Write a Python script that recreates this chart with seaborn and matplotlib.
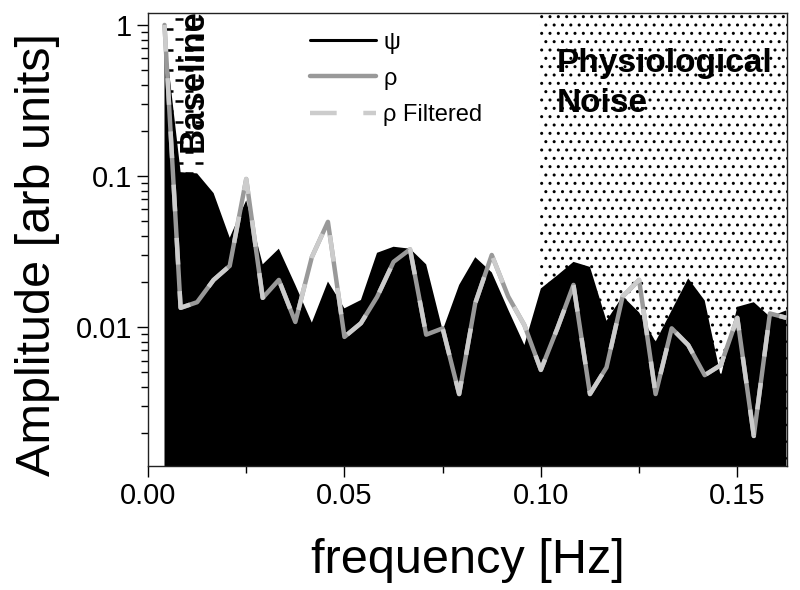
import numpy as np
import matplotlib
matplotlib.use('Agg')
import matplotlib.pyplot as plt
import matplotlib.ticker as mticker
from matplotlib.lines import Line2D
import seaborn as sns

# spectrum sampled at k/240 Hz, k = 1..39
freq = [0.0042, 0.0083, 0.0125, 0.0167, 0.0208, 0.0250, 0.0292, 0.0333, 0.0375, 0.0417,
        0.0458, 0.0500, 0.0542, 0.0583, 0.0625, 0.0667, 0.0708, 0.0750, 0.0792, 0.0833,
        0.0875, 0.0917, 0.0958, 0.1000, 0.1042, 0.1083, 0.1125, 0.1167, 0.1208, 0.1250,
        0.1292, 0.1333, 0.1375, 0.1417, 0.1458, 0.1500, 0.1542, 0.1583, 0.1625]

psi = [0.90, 0.106, 0.104, 0.077, 0.039, 0.069, 0.026, 0.033, 0.019, 0.0107,
       0.020, 0.0133, 0.0151, 0.031, 0.034, 0.033, 0.026, 0.0095, 0.019, 0.029,
       0.023, 0.013, 0.0076, 0.018, 0.022, 0.027, 0.025, 0.011, 0.016, 0.0125,
       0.0080, 0.0129, 0.021, 0.015, 0.0047, 0.0136, 0.0146, 0.0117, 0.0129]

rho = [1.0, 0.0134, 0.0146, 0.0205, 0.0254, 0.0955, 0.0156, 0.0205, 0.0108, 0.029,
       0.0497, 0.0086, 0.0106, 0.0158, 0.027, 0.0327, 0.0089, 0.0098, 0.0036, 0.0144,
       0.030, 0.0159, 0.0103, 0.0052, 0.0098, 0.0190, 0.0036, 0.0054, 0.0159, 0.0205,
       0.0036, 0.0098, 0.0076, 0.0048, 0.0056, 0.0115, 0.0019, 0.0123, 0.0115]

rho_filtered = [1.0, 0.0134, 0.0146, 0.0205, 0.0254, 0.0955, 0.0156, 0.0205, 0.0108, 0.029,
                0.0497, 0.0086, 0.0106, 0.0158, 0.027, 0.0327, 0.0089, 0.0098, 0.0036, 0.0144,
                0.030, 0.0159, 0.0103, 0.0052, 0.0098, 0.0190, 0.0036, 0.0054, 0.0159, 0.0205,
                0.0036, 0.0098, 0.0076, 0.0048, 0.0056, 0.0115, 0.0019, 0.0123, 0.0115]

baseline_band = (0.0043, 0.0140)
noise_band = (0.0995, 0.1630)

sns.set_style('ticks')
narrow = ['Liberation Sans Narrow', 'Liberation Sans', 'DejaVu Sans']
plt.rcParams['font.family'] = ['Liberation Sans', 'DejaVu Sans']
plt.rcParams['hatch.linewidth'] = 1.0
for key in ['text.color', 'axes.labelcolor', 'xtick.color', 'ytick.color']:
    plt.rcParams[key] = 'black'

fig = plt.figure(figsize=(8, 5.9), dpi=100)
ax = fig.add_axes([0.185, 0.210, 0.799, 0.768])
ax.set_yscale('log')
ax.set_xlim(0, 0.1627)
ax.set_ylim(0.0012, 1.2)

# baseline band: staggered rows of short dashes
rows = np.geomspace(0.0013, 1.1, 44)
ax.hlines(rows[::2], *baseline_band, colors='black', linewidth=1.8,
          linestyles=(0, (3.2, 4.8)), zorder=0)
ax.hlines(rows[1::2], *baseline_band, colors='black', linewidth=1.8,
          linestyles=(4, (3.2, 4.8)), zorder=0)
# physiological noise band: dotted
ax.axvspan(*noise_band, facecolor='none', edgecolor='black', hatch='..', linewidth=0, zorder=0)

# psi as filled area
ax.fill_between(freq, psi, 1e-4, color='black', linewidth=0, zorder=1)

sns.lineplot(x=freq, y=rho, ax=ax, color='#999999', linewidth=3.2, zorder=2)
sns.lineplot(x=freq, y=rho_filtered, ax=ax, color='#cccccc', linewidth=3.2,
             zorder=3).lines[-1].set_dashes((6, 6))

ax.xaxis.set_major_locator(mticker.MultipleLocator(0.05))
ax.xaxis.set_minor_locator(mticker.MultipleLocator(0.025))
ax.xaxis.set_major_formatter(mticker.FormatStrFormatter('%.2f'))
ax.yaxis.set_major_locator(mticker.FixedLocator([0.01, 0.1, 1]))
ax.yaxis.set_major_formatter(mticker.FixedFormatter(['0.01', '0.1', '1']))
ax.yaxis.set_minor_locator(mticker.LogLocator(subs=np.arange(2, 10)))
ax.yaxis.set_minor_formatter(mticker.NullFormatter())

ax.tick_params(axis='both', which='major', length=8, width=1, direction='out', labelsize=21)
ax.tick_params(axis='both', which='minor', length=5, width=1, direction='out')
for lab in ax.get_xticklabels() + ax.get_yticklabels():
    lab.set_family(narrow)
for sp in ax.spines.values():
    sp.set_visible(True)
    sp.set_linewidth(1)
    sp.set_color('#222222')

ax.set_xlabel('frequency [Hz]', fontsize=35, family=narrow, labelpad=20)
ax.set_ylabel('Amplitude [arb units]', fontsize=35, family=narrow)
ax.yaxis.set_label_coords(-0.138, 0.468)

ax.text(0.0116, 0.693, 'Baseline', transform=ax.get_xaxis_transform(), rotation=90,
        ha='center', va='bottom', fontsize=25, fontweight='bold', zorder=4)
ax.text(0.104, 0.922, 'Physiological\nNoise', transform=ax.get_xaxis_transform(),
        ha='left', va='top', fontsize=24, fontweight='bold', linespacing=1.35, zorder=4)

handles = [Line2D([], [], color='black', linewidth=2.2),
           Line2D([], [], color='#999999', linewidth=3.2),
           Line2D([], [], color='#cccccc', linewidth=3.2, dashes=(6, 6))]
ax.legend(handles, ['ψ', 'ρ', 'ρ Filtered'], loc='upper left', bbox_to_anchor=(0.235, 0.985),
          frameon=False, fontsize=17, handlelength=2.8, handletextpad=0.3,
          labelspacing=0.6, borderpad=0)

fig.savefig('out.png', dpi=100)
